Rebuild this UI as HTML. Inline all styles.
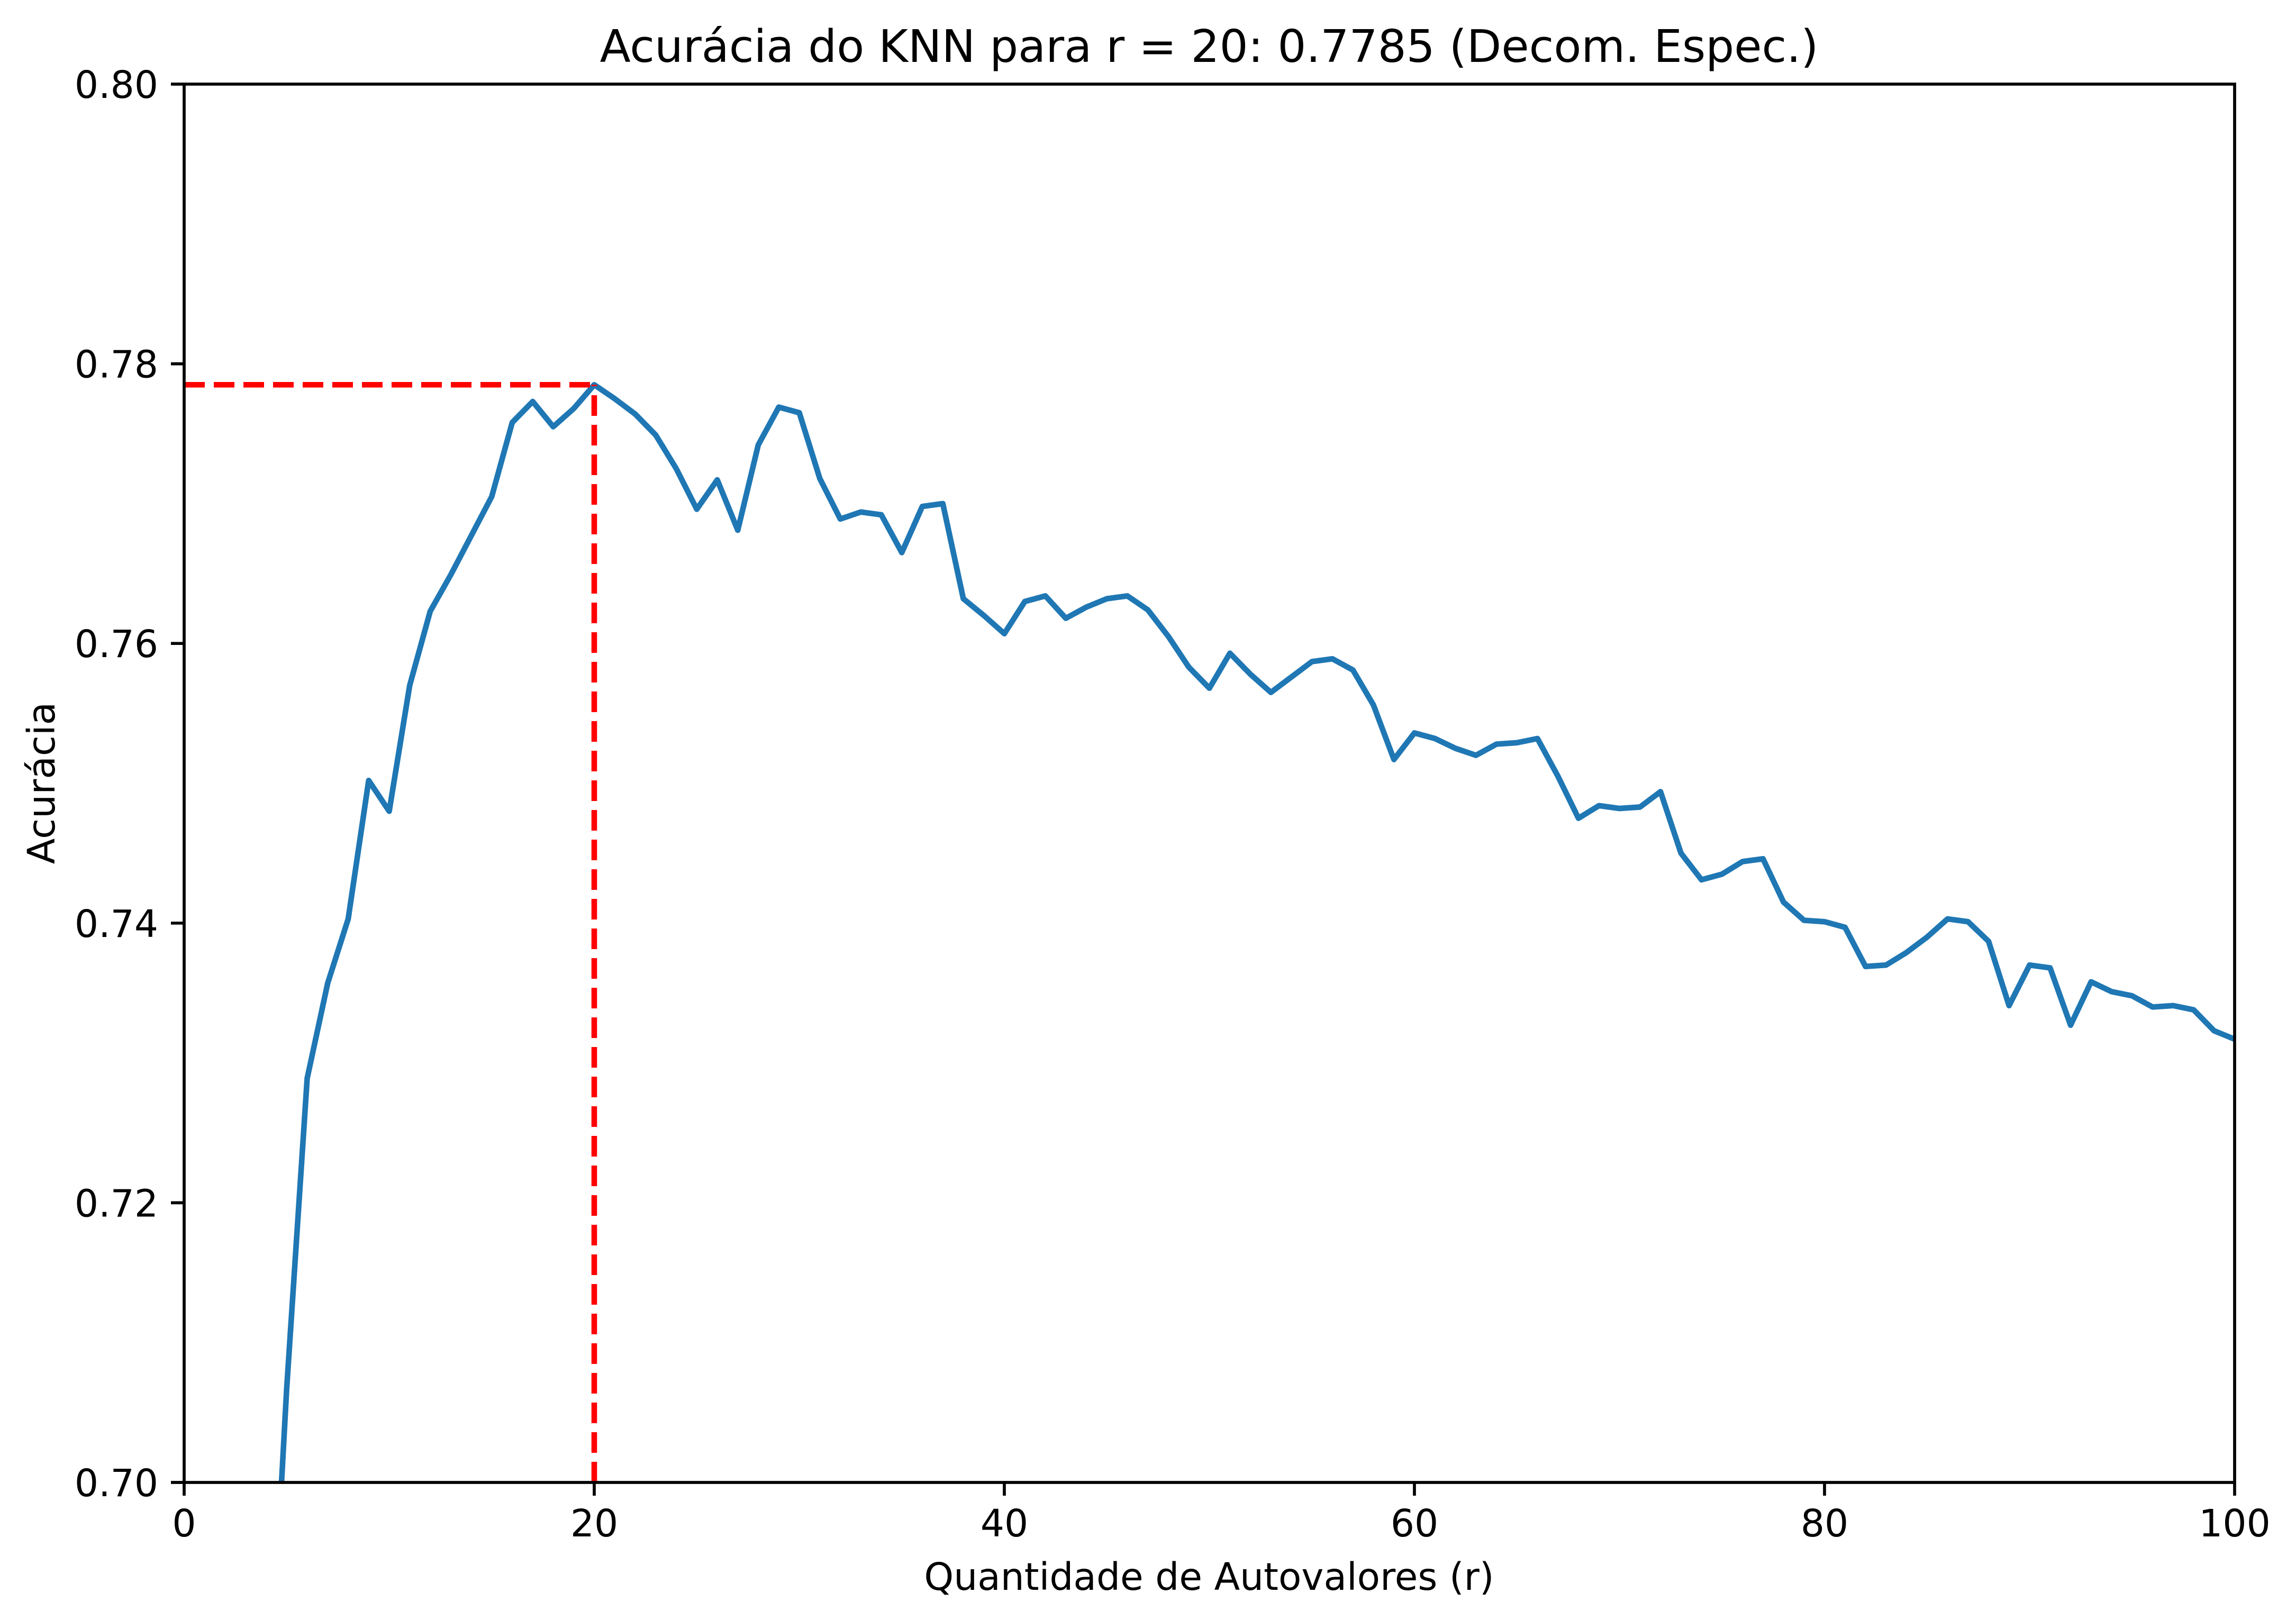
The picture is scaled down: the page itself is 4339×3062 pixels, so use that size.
<!DOCTYPE html>
<html><head><meta charset="utf-8"><style>html,body{margin:0;padding:0;background:#fff;width:4339px;height:3062px;overflow:hidden}svg{display:block}text{font-family:"DejaVu Sans","Liberation Sans",sans-serif;fill:#000}</style></head>
<body>
<svg id="chart" width="4339" height="3062" viewBox="0 0 4339 3062" xmlns="http://www.w3.org/2000/svg">
<rect width="4339" height="3062" fill="#fff"/>
<defs><clipPath id="plotclip"><rect x="348" y="159" width="3875" height="2643"/></clipPath></defs>
<g id="marks" clip-path="url(#plotclip)"></g>
<g id="axes"></g>
<text x="2285" y="117" font-size="85" text-anchor="middle">Acurácia do KNN para r = 20: 0.7785 (Decom. Espec.)</text>
<text x="2285" y="3005" font-size="71" text-anchor="middle">Quantidade de Autovalores (r)</text>
<text transform="translate(103,1480) rotate(-90)" font-size="71" text-anchor="middle">Acurácia</text>
</svg>
<script>
const rValues = [1,2,3,4,5,6,7,8,9,10,11,12,13,14,15,16,17,18,19,20,21,22,23,24,25,26,27,28,29,30,31,32,33,34,35,36,37,38,39,40,41,42,43,44,45,46,47,48,49,50,51,52,53,54,55,56,57,58,59,60,61,62,63,64,65,66,67,68,69,70,71,72,73,74,75,76,77,78,79,80,81,82,83,84,85,86,87,88,89,90,91,92,93,94,95,96,97,98,99,100];
const accuracy = [0.55,0.60,0.64,0.68,0.7067,0.7289,0.7357,0.7403,0.7502,0.7480,0.7570,0.7623,0.7649,0.7677,0.7705,0.7758,0.7773,0.7755,0.7768,0.7785,0.7775,0.7764,0.7749,0.7725,0.7696,0.7717,0.7681,0.7742,0.7769,0.7765,0.7718,0.7689,0.7694,0.7692,0.7665,0.7698,0.7700,0.7632,0.7620,0.7607,0.7630,0.7634,0.7618,0.7626,0.7632,0.7634,0.7624,0.7605,0.7583,0.7568,0.7593,0.7578,0.7565,0.7576,0.7587,0.7589,0.7581,0.7556,0.7517,0.7536,0.7532,0.7525,0.7520,0.7528,0.7529,0.7532,0.7505,0.7475,0.7484,0.7482,0.7483,0.7494,0.7450,0.7431,0.7435,0.7444,0.7446,0.7415,0.7402,0.7401,0.7397,0.7369,0.7370,0.7379,0.7390,0.7403,0.7401,0.7387,0.7341,0.7370,0.7368,0.7327,0.7358,0.7351,0.7348,0.7340,0.7341,0.7338,0.7323,0.7317];
const bestR = 20;
const bestAcc = 0.7785;
const xTicks = [0,20,40,60,80,100];
const yTicks = [0.70,0.72,0.74,0.76,0.78,0.80];
const yTickLabels = ["0.70","0.72","0.74","0.76","0.78","0.80"];

const L=348,R=4223,T=159,B=2802;
const xMin=0,xMax=100,yMin=0.70,yMax=0.80;
function sx(v){return L+(v-xMin)/(xMax-xMin)*(R-L);}
function sy(v){return B-(v-yMin)/(yMax-yMin)*(B-T);}
const NS="http://www.w3.org/2000/svg";
const marks=document.getElementById('marks');
const axes=document.getElementById('axes');
function mk(tag,attrs,parent){const e=document.createElementNS(NS,tag);for(const k in attrs)e.setAttribute(k,attrs[k]);parent.appendChild(e);return e;}

let d='';
rValues.forEach((r,i)=>{d+=(i?'L':'M')+sx(r).toFixed(2)+','+sy(accuracy[i]).toFixed(2);});
const line=mk('path',{d:d,fill:'none',stroke:'#1f77b4','stroke-width':10.6,'stroke-linejoin':'round','stroke-linecap':'square'},marks);



const hl=mk('line',{x1:sx(xMin),y1:sy(bestAcc),x2:sx(bestR),y2:sy(bestAcc),stroke:'#ff0000','stroke-width':10.6,'stroke-dasharray':'39 17'},marks);


const vl=mk('line',{x1:sx(bestR),y1:sy(yMin),x2:sx(bestR),y2:sy(bestAcc),stroke:'#ff0000','stroke-width':10.6,'stroke-dasharray':'39 17'},marks);



const frame=mk('rect',{x:L,y:T,width:R-L,height:B-T,fill:'none',stroke:'#000','stroke-width':5.7},axes);



xTicks.forEach(v=>{
  const t=mk('line',{x1:sx(v),y1:B,x2:sx(v),y2:B+25,stroke:'#000','stroke-width':5.7},axes);
  
  
  const lb=mk('text',{x:sx(v),y:2904,'font-size':71,'text-anchor':'middle'},axes);
  lb.textContent=String(v);
  
  
});
yTicks.forEach((v,i)=>{
  const t=mk('line',{x1:L-25,y1:sy(v),x2:L,y2:sy(v),stroke:'#000','stroke-width':5.7},axes);
  
  
  const lb=mk('text',{x:L-49,y:sy(v)+26,'font-size':71,'text-anchor':'end'},axes);
  lb.textContent=yTickLabels[i];
  
  
});
</script>
</body></html>
